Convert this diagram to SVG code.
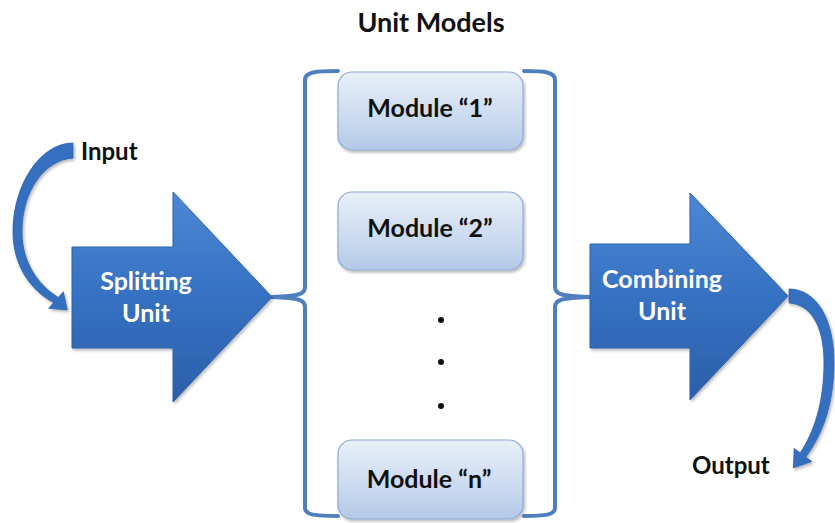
<svg xmlns="http://www.w3.org/2000/svg" width="835" height="523" viewBox="0 0 835 523">
  <defs>
    <linearGradient id="blockFill" x1="0" y1="0" x2="0" y2="1">
      <stop offset="0" stop-color="#4b87d3"/>
      <stop offset="0.5" stop-color="#3671c2"/>
      <stop offset="1" stop-color="#2b5fa9"/>
    </linearGradient>
    <linearGradient id="moduleFill" x1="0" y1="0" x2="0" y2="1">
      <stop offset="0" stop-color="#e8eff9"/>
      <stop offset="0.55" stop-color="#cddcf0"/>
      <stop offset="1" stop-color="#b3c9e7"/>
    </linearGradient>
    <filter id="soft" x="-10%" y="-10%" width="125%" height="125%">
      <feDropShadow dx="1.5" dy="2" stdDeviation="1.8" flood-color="#000" flood-opacity="0.28"/>
    </filter>
  </defs>
  <style>
    .label { font-family: Lato, "Open Sans", "Liberation Sans", sans-serif; font-weight: bold; }
    .dark { fill: #111; }
    .light { fill: #fff; }
    .block { fill: url(#blockFill); stroke: #2d62ad; stroke-width: 1; filter: url(#soft); }
    .module { fill: url(#moduleFill); stroke: #8ea9d3; stroke-width: 1.2; filter: url(#soft); }
    .brace { fill: none; stroke: #4f7fbf; stroke-width: 4; stroke-linecap: round; stroke-linejoin: round; }
    .curl { fill: #3670c0; stroke: #2d62ad; stroke-width: 0.8; filter: url(#soft); }
  </style>

  <rect width="835" height="523" fill="#fff"/>

  <text class="label dark" x="431" y="32" font-size="27" text-anchor="middle">Unit Models</text>

  <!-- connectors: input/output curls and the two braces -->
  <g id="connectors">
    <path class="curl" d="M73,143 C40,143 13,185 13,232 C13,265 30,290 53.7,302.6 L48.7,308.3 L67.3,309.9 L63.3,291.8 L58.3,297.4 C38,285 22,262 22,232 C22,190 45,160 73,158 Z"/>
    <path class="curl" d="M789,289 C817,289 834,320 834,362 C834,405 822,435 805.8,457.1 L811.8,461.6 L793.4,467.8 L794.2,448.4 L800.2,452.9 C814,432 824,403 824,362 C824,325 810,304 789,303 Z"/>
    <path class="brace" d="M338,71 C315,71 305,72 305,80 L305,287 C305,294 300,296 272,297 C300,298 305,300 305,307 L305,508 C305,515 315,516 338,516"/>
    <path class="brace" d="M524,71 C545,71 555,72 555,80 L555,287 C555,294 560,296 590,297 C560,298 555,300 555,307 L555,508 C555,515 545,516 524,516"/>
  </g>

  <g id="input">
    <text class="label dark" x="81" y="160" font-size="24">Input</text>
  </g>

  <g id="splitting-unit">
    <path class="block" d="M72,247 L173,247 L173,192 L272,297 L173,402 L173,348 L72,348 Z"/>
    <text class="label light" x="146" y="290" font-size="25" text-anchor="middle">Splitting</text>
    <text class="label light" x="146" y="322" font-size="25" text-anchor="middle">Unit</text>
  </g>

  <g id="module-1">
    <rect class="module" x="338" y="72" width="185" height="78" rx="14"/>
    <text class="label dark" x="430" y="117" font-size="25" text-anchor="middle">Module “1”</text>
  </g>

  <g id="module-2">
    <rect class="module" x="338" y="192" width="185" height="78" rx="14"/>
    <text class="label dark" x="430" y="237" font-size="25" text-anchor="middle">Module “2”</text>
  </g>

  <g id="ellipsis">
    <circle cx="441" cy="320" r="3" fill="#111"/>
    <circle cx="441" cy="362" r="3" fill="#111"/>
    <circle cx="441" cy="406" r="3" fill="#111"/>
  </g>

  <g id="module-n">
    <rect class="module" x="338" y="440" width="185" height="79" rx="14"/>
    <text class="label dark" x="429" y="488" font-size="25" text-anchor="middle">Module “n”</text>
  </g>

  <g id="combining-unit">
    <path class="block" d="M590,244 L690,244 L690,193 L788,296 L690,400 L690,348 L590,348 Z"/>
    <text class="label light" x="662" y="288" font-size="25" text-anchor="middle">Combining</text>
    <text class="label light" x="662" y="320" font-size="25" text-anchor="middle">Unit</text>
  </g>

  <g id="output">
    <text class="label dark" x="692" y="474" font-size="24">Output</text>
  </g>
</svg>
